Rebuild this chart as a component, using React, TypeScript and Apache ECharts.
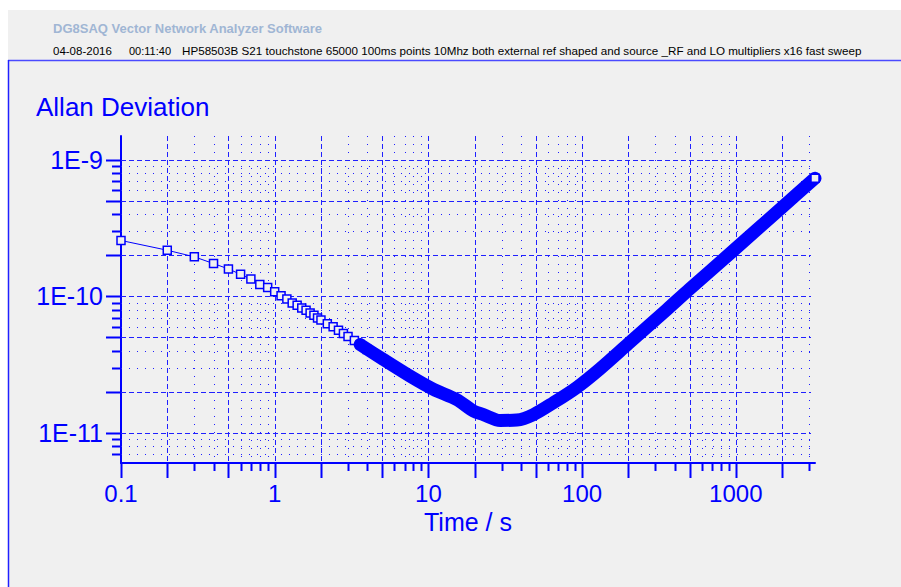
import React, { useEffect, useRef } from 'react';
import * as echarts from 'echarts';

const HEADER_TITLE = 'DG8SAQ Vector Network Analyzer Software';
const HEADER_DATE = '04-08-2016';
const HEADER_TIME = '00:11:40';
const HEADER_DESC =
  'HP58503B S21 touchstone 65000 100ms points 10Mhz both external ref shaped and source _RF and LO multipliers x16 fast sweep';
const CHART_TITLE = 'Allan Deviation';
const X_NAME = 'Time / s';

const X_MIN = 0.1;
const X_MAX = 3276.8;
const Y_MIN = 6e-12;
const Y_MAX = 1.5e-9;

// distinct markers (tau = n * 0.1 s)
const tauSparse = [0.1, 0.2, 0.3, 0.4, 0.5, 0.6, 0.7, 0.8, 0.9, 1.0, 1.1, 1.2, 1.3, 1.4, 1.5, 1.6, 1.7, 1.8, 1.9, 2.0, 2.2, 2.4, 2.6, 2.8, 3.0, 3.3, 3.6, 4.0];
const adevSparse = [
  2.57e-10, 2.18e-10, 1.95e-10, 1.74e-10, 1.59e-10, 1.45e-10, 1.34e-10, 1.22e-10, 1.16e-10, 1.08e-10,
  1.01e-10, 9.57e-11, 8.95e-11, 8.6e-11, 8.22e-11, 7.9e-11, 7.56e-11, 7.26e-11, 6.95e-11, 6.72e-11,
  6.3e-11, 6.0e-11, 5.65e-11, 5.35e-11, 5.07e-11, 4.74e-11, 4.43e-11, 4.07e-11,
];

// dense region where markers merge into a band
const tauDense = [3.6, 5.1, 7.6, 10.8, 15.3, 19.7, 22.8, 29.3, 37.6, 48.3, 65.1, 92.4, 131, 200, 356, 500, 965, 2000, 3276.8];
const adevDense = [
  4.43e-11, 3.44e-11, 2.6e-11, 2.08e-11, 1.75e-11, 1.44e-11, 1.36e-11, 1.23e-11, 1.24e-11, 1.36e-11,
  1.66e-11, 2.15e-11, 2.95e-11, 4.5e-11, 8.0e-11, 1.13e-10, 2.17e-10, 4.5e-10, 7.35e-10,
];

const tauEnd = [3276.8];
const adevEnd = [7.35e-10];

// grid / tick values
const xMajor = [0.1, 0.2, 0.5, 1, 2, 5, 10, 20, 50, 100, 200, 500, 1000, 2000];
const xMinor = [0.3, 0.4, 0.6, 0.7, 0.8, 0.9, 3, 4, 6, 7, 8, 9, 30, 40, 60, 70, 80, 90, 300, 400, 600, 700, 800, 900, 3000];
const yMajor = [1e-11, 2e-11, 5e-11, 1e-10, 2e-10, 5e-10, 1e-9];
const yMinor = [7e-12, 8e-12, 9e-12, 3e-11, 4e-11, 6e-11, 7e-11, 8e-11, 9e-11, 3e-10, 4e-10, 6e-10, 7e-10, 8e-10, 9e-10];

const BLUE = '#0000ff';
const GRID_BLUE = '#2020ff';
const FONT = '"Liberation Sans", Arial, sans-serif';

const App: React.FC = () => {
  const ref = useRef<HTMLDivElement>(null);

  useEffect(() => {
    if (!ref.current) return;
    const chart = echarts.init(ref.current, null, { renderer: 'svg' });

    const crisp = (v: number) => Math.round(v) + 0.5;

    const xTickData = [
      ...xMajor.map((v) => [v, Y_MIN, 1]),
      ...xMinor.map((v) => [v, Y_MIN, 0]),
    ];
    const yTickData = [
      ...yMajor.map((v) => [X_MIN, v, 1]),
      ...yMinor.map((v) => [X_MIN, v, 0]),
    ];

    const option: any = {
      animation: false,
      backgroundColor: '#f0f0f0',
      grid: { left: 121, right: 86, top: 136, bottom: 124 },
      xAxis: {
        type: 'log',
        logBase: 10,
        min: X_MIN,
        max: X_MAX,
        name: X_NAME,
        nameLocation: 'middle',
        nameGap: 46,
        nameTextStyle: { color: BLUE, fontSize: 25, fontFamily: FONT },
        axisLine: { lineStyle: { color: BLUE, width: 2 } },
        axisTick: { show: false },
        splitLine: { show: false },
        minorTick: { show: false },
        axisLabel: {
          color: BLUE,
          fontSize: 24,
          fontFamily: FONT,
          margin: 18,
          showMinLabel: true,
          showMaxLabel: false,
          formatter: (v: number) => (v < 1 ? v.toFixed(1) : String(Math.round(v))),
        },
      },
      yAxis: {
        type: 'log',
        logBase: 10,
        min: Y_MIN,
        max: Y_MAX,
        axisLine: { lineStyle: { color: BLUE, width: 2 } },
        axisTick: { show: false },
        splitLine: { show: false },
        axisLabel: {
          color: BLUE,
          fontSize: 25,
          fontFamily: FONT,
          margin: 18,
          showMinLabel: false,
          showMaxLabel: false,
          formatter: (v: number) => '1E' + Math.round(Math.log10(v)),
        },
      },
      graphic: [
        { type: 'rect', left: 0, top: 0, shape: { width: 901, height: 10 }, style: { fill: '#ffffff' }, silent: true },
        { type: 'rect', left: 0, top: 0, shape: { width: 8, height: 587 }, style: { fill: '#ffffff' }, silent: true },
        { type: 'line', shape: { x1: 8, y1: 60.5, x2: 901, y2: 60.5 }, style: { stroke: '#4a4aff', lineWidth: 1.5 }, silent: true },
        { type: 'line', shape: { x1: 8.5, y1: 60, x2: 8.5, y2: 587 }, style: { stroke: '#2020ff', lineWidth: 1.5 }, silent: true },
        {
          type: 'text', x: 53, y: 28.5,
          style: { text: HEADER_TITLE, fill: '#a0b6d4', font: `bold 13px ${FONT}`, textVerticalAlign: 'middle' },
          silent: true,
        },
        { type: 'text', x: 53, y: 50.5, style: { text: HEADER_DATE, fill: '#000', font: `11.5px ${FONT}`, textVerticalAlign: 'middle' }, silent: true },
        { type: 'text', x: 129, y: 50.5, style: { text: HEADER_TIME, fill: '#000', font: `11px ${FONT}`, textVerticalAlign: 'middle' }, silent: true },
        { type: 'text', x: 182, y: 50.5, style: { text: HEADER_DESC, fill: '#000', font: `11.65px ${FONT}`, textVerticalAlign: 'middle' }, silent: true },
        {
          type: 'text', x: 36, y: 107,
          style: { text: CHART_TITLE, fill: BLUE, font: `26px ${FONT}`, textVerticalAlign: 'middle' },
          silent: true,
        },
      ],
      series: [
        {
          type: 'custom',
          name: 'xgrid',
          clip: false,
          silent: true,
          z: 1,
          encode: { x: 0, y: 1 },
          data: xTickData,
          renderItem: (params: any, api: any) => {
            const v = api.value(0);
            const major = api.value(2) === 1;
            const b = api.coord([v, Y_MIN]);
            const t = api.coord([v, Y_MAX]);
            const x = crisp(b[0]);
            const children: any[] = [
              { type: 'line', shape: { x1: x, y1: b[1], x2: x, y2: b[1] + (major ? 15 : 8) }, style: { stroke: BLUE, lineWidth: 2 } },
            ];
            if (v > X_MIN * 1.01) {
              children.push({
                type: 'line',
                shape: { x1: x, y1: t[1], x2: x, y2: b[1] },
                style: { stroke: GRID_BLUE, lineWidth: 1, lineDash: major ? [5, 3] : [1, 7] },
              });
            }
            return { type: 'group', children };
          },
        },
        {
          type: 'custom',
          name: 'ygrid',
          clip: false,
          silent: true,
          z: 1,
          encode: { x: 0, y: 1 },
          data: yTickData,
          renderItem: (params: any, api: any) => {
            const v = api.value(1);
            const major = api.value(2) === 1;
            const l = api.coord([X_MIN, v]);
            const r = api.coord([X_MAX, v]);
            const y = crisp(l[1]);
            return {
              type: 'group',
              children: [
                { type: 'line', shape: { x1: l[0] - (major ? 15 : 9), y1: y, x2: l[0], y2: y }, style: { stroke: BLUE, lineWidth: 2 } },
                {
                  type: 'line',
                  shape: { x1: l[0], y1: y, x2: r[0] - 4, y2: y },
                  style: { stroke: GRID_BLUE, lineWidth: 1, lineDash: major ? [5, 3] : [1, 7] },
                },
              ],
            };
          },
        },
        {
          type: 'line',
          name: 'sparse',
          z: 3,
          clip: false,
          data: tauSparse.map((t, i) => [t, adevSparse[i]]),
          symbol: 'rect',
          symbolSize: 8,
          showAllSymbol: true,
          lineStyle: { color: BLUE, width: 1 },
          itemStyle: { color: '#f0f0f0', borderColor: BLUE, borderWidth: 1.5 },
        },
        {
          type: 'line',
          name: 'band',
          z: 4,
          clip: false,
          smooth: 0.3,
          showSymbol: false,
          data: tauDense.map((t, i) => [t, adevDense[i]]),
          lineStyle: { color: BLUE, width: 13, cap: 'round', join: 'round' },
        },
        {
          type: 'scatter',
          name: 'end',
          z: 5,
          clip: false,
          data: tauEnd.map((t, i) => [t, adevEnd[i]]),
          symbol: 'rect',
          symbolSize: 8,
          itemStyle: { color: '#f0f0f0', borderColor: BLUE, borderWidth: 1.5, opacity: 1 },
        },
      ],
    };

    chart.setOption(option);
    return () => chart.dispose();
  }, []);

  return (
    <div
      ref={ref}
      style={{ position: 'fixed', left: 0, top: 0, width: 901, height: 587 }}
    />
  );
};

export default App;
